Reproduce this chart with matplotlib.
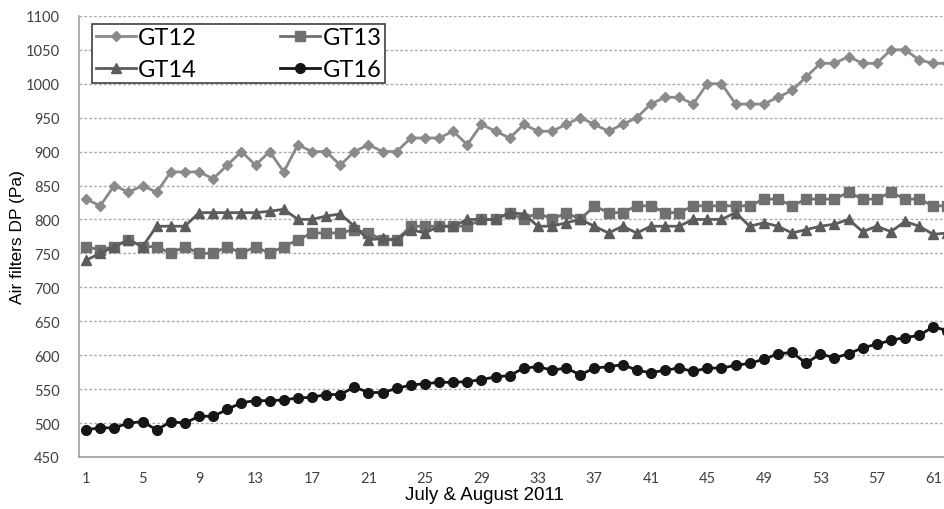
import numpy as np
import matplotlib
matplotlib.use("Agg")
from matplotlib import pyplot as plt

days = list(range(1, 63))

gt12 = [830, 820, 850, 840, 850, 840, 870, 870, 870, 860,
        880, 900, 880, 900, 870, 910, 900, 900, 880, 900,
        910, 900, 900, 920, 920, 920, 930, 910, 940, 930,
        920, 940, 930, 930, 940, 950, 940, 930, 940, 950,
        970, 980, 980, 970, 1000, 1000, 970, 970, 970, 980,
        990, 1010, 1030, 1030, 1040, 1030, 1030, 1050, 1050, 1035,
        1030, 1030]

gt13 = [760, 755, 760, 770, 760, 760, 750, 760, 750, 750,
        760, 750, 760, 750, 760, 770, 780, 780, 780, 785,
        780, 770, 770, 790, 790, 790, 790, 790, 800, 800,
        810, 800, 810, 800, 810, 800, 820, 810, 810, 820,
        820, 810, 810, 820, 820, 820, 820, 820, 830, 830,
        820, 830, 830, 830, 840, 830, 830, 840, 830, 830,
        820, 820]

gt14 = [740, 750, 760, 770, 760, 790, 790, 790, 810, 810,
        810, 810, 810, 812, 815, 800, 800, 805, 808, 790,
        770, 772, 770, 785, 780, 790, 790, 800, 800, 800,
        810, 808, 790, 790, 795, 800, 790, 780, 790, 780,
        790, 790, 790, 800, 800, 800, 810, 790, 795, 790,
        780, 785, 790, 793, 800, 782, 790, 782, 797, 790,
        778, 780]

gt16 = [490, 493, 493, 500, 502, 490, 502, 500, 510, 510,
        520, 530, 533, 533, 534, 537, 538, 542, 542, 553,
        545, 545, 551, 556, 558, 560, 560, 561, 564, 568,
        570, 581, 583, 578, 581, 571, 581, 583, 586, 578,
        574, 578, 581, 576, 581, 581, 585, 588, 594, 602,
        604, 588, 602, 596, 602, 611, 616, 622, 626, 629,
        642, 636]

xticks = list(range(1, 62, 4))
yticks = list(range(450, 1101, 50))

tick_font = ['Lato', 'DejaVu Sans']
label_font = ['Liberation Sans', 'DejaVu Sans']

fig = plt.figure(figsize=(9.44, 5.10), dpi=100)
ax = fig.add_axes([0.0837, 0.102, 0.9163, 0.865])

l12, = ax.plot(days, gt12, color='#8a8a8a', marker='D', markersize=5.5, lw=2, label='GT12')
l13, = ax.plot(days, gt13, color='#707070', marker='s', markersize=6.5, lw=2, label='GT13')
l14, = ax.plot(days, gt14, color='#5c5c5c', marker='^', markersize=7.5, lw=2, label='GT14')
l16, = ax.plot(days, gt16, color='#161616', marker='o', markersize=7, lw=2, label='GT16')

ax.set_xlim(0.5, 61.76)
ax.set_ylim(450, 1100)
ax.set_xticks(xticks)
ax.set_yticks(yticks)
ax.tick_params(length=0, labelsize=10.5, labelcolor='#404040')
ax.tick_params(axis='y', pad=14)
ax.tick_params(axis='x', pad=10)
for lab in ax.get_xticklabels() + ax.get_yticklabels():
    lab.set_family(tick_font)

ax.grid(axis='y', color='#ababab', linestyle=(0, (2, 1.5)), lw=1)
ax.set_axisbelow(True)
for s in ['top', 'right']:
    ax.spines[s].set_visible(False)
for s in ['left', 'bottom']:
    ax.spines[s].set_color('#a0a0a0')
    ax.spines[s].set_linewidth(1.2)

ax.set_ylabel('Air filters DP (Pa)', fontsize=12.5, family=label_font)
ax.yaxis.set_label_coords(-0.062, 0.5)
ax.set_xlabel('July & August 2011', fontsize=13.5, family=label_font)
ax.xaxis.set_label_coords(0.469, -0.066)

# Excel-style legend: row 1 = GT12, GT13; row 2 = GT14, GT16
leg = ax.legend([l12, l14, l13, l16], ['GT12', 'GT14', 'GT13', 'GT16'],
                ncol=2, loc='upper left',
                bbox_to_anchor=(0.015, 0.845, 0.339, 0.137), mode='expand',
                borderaxespad=0, fancybox=False, framealpha=1,
                prop={'family': tick_font, 'size': 17},
                handlelength=1.7, handletextpad=0.1, columnspacing=0.6,
                labelspacing=0.45, borderpad=0.15)
leg.get_frame().set_edgecolor('#404040')
leg.get_frame().set_linewidth(1.2)

fig.savefig('out.png', dpi=100)
